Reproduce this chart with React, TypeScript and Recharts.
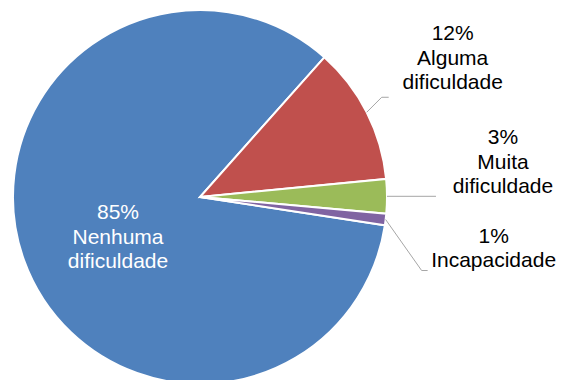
import { PieChart, Pie, Cell } from "recharts"

const categories = ["Nenhuma dificuldade", "Alguma dificuldade", "Muita dificuldade", "Incapacidade"]
const percentages = [85, 12, 3, 1]
const colors = ["#4F81BD", "#C0504D", "#9BBB59", "#8064A2"]

const data = categories.map((name, i) => ({ name, value: percentages[i] }))

// label placement per slice, relative to the slice's outer-edge point (index 0 is inside, relative to centre)
const labelStyle = [
  { dx: -82, dy: 22, leader: null, inside: true },
  { dx: 86, dy: -72, leader: [[15, -15], [22, -15]], inside: false },
  { dx: 116, dy: -52, leader: [[49, 0]], inside: false },
  { dx: 108, dy: 23, leader: [[36, 51], [42, 51]], inside: false },
]

const RADIAN = Math.PI / 180
const FONT = "'Liberation Sans', Arial, sans-serif"

function renderLabel(props: any) {
  const { cx, cy, midAngle, outerRadius, index, value, name } = props
  const st = labelStyle[index]
  const ex = cx + outerRadius * Math.cos(-midAngle * RADIAN)
  const ey = cy + outerRadius * Math.sin(-midAngle * RADIAN)
  const bx = st.inside ? cx : ex
  const by = st.inside ? cy : ey
  const lines = [`${value}%`, ...String(name).split(" ")]

  let path = ""
  if (st.leader) {
    path = `M${ex},${ey}` + st.leader.map(([x, y]) => ` L${ex + x},${ey + y}`).join("")
  }

  return (
    <g key={`lbl-${index}`}>
      {path && <path d={path} stroke="#a6a6a6" strokeWidth={1} fill="none" />}
      <text
        x={bx + st.dx}
        y={by + st.dy}
        textAnchor="middle"
        fill={st.inside ? "#ffffff" : "#000000"}
        fontSize={21}
        fontFamily={FONT}
      >
        {lines.map((l, i) => (
          <tspan key={i} x={bx + st.dx} dy={i === 0 ? 0 : 24.5}>
            {l}
          </tspan>
        ))}
      </text>
    </g>
  )
}

export default function App() {
  return (
    <div style={{ position: "fixed", left: 0, top: 0, width: 565, height: 380, background: "#fff" }}>
      <PieChart width={565} height={380} margin={{ top: 0, right: 0, bottom: 0, left: 0 }}>
        <Pie
          data={data}
          dataKey="value"
          nameKey="name"
          cx={200}
          cy={197}
          outerRadius={187}
          startAngle={351.3}
          endAngle={-8.7}
          stroke="#ffffff"
          strokeWidth={2}
          label={renderLabel}
          labelLine={false}
          isAnimationActive={false}
        >
          {data.map((d, i) => (
            <Cell key={d.name} fill={colors[i]} />
          ))}
        </Pie>
      </PieChart>
    </div>
  )
}
